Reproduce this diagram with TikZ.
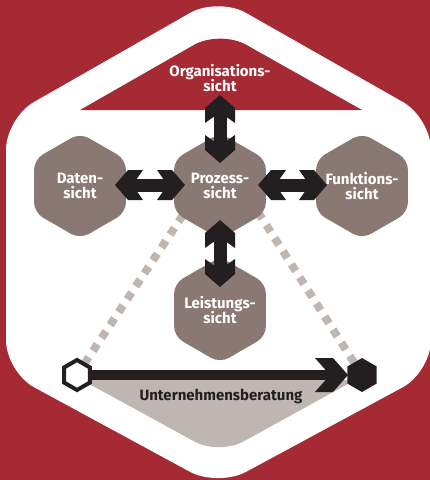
\documentclass[tikz,border=0pt]{standalone}
\usepackage{fontspec}
\setmainfont{Fira Sans}
\usetikzlibrary{shapes.geometric,arrows.meta,calc}
\definecolor{bgred}{HTML}{A62A33}
\definecolor{taupe}{HTML}{8A7972}
\definecolor{lgray}{HTML}{BFB6B2}
\definecolor{ink}{HTML}{231F20}
\pgfdeclarelayer{bg}
\pgfsetlayers{bg,main}
\pgfdeclarearrow{
  name = Chunky,
  setup code = {
    \pgfarrowssettipend{0pt}
    \pgfarrowssetbackend{-28pt}
    \pgfarrowssetlineend{-20pt}
    \pgfarrowshullpoint{0pt}{0pt}
    \pgfarrowsupperhullpoint{-28pt}{15pt}
  },
  drawing code = {
    \pgfpathmoveto{\pgfpoint{0pt}{0pt}}
    \pgfpathlineto{\pgfpoint{-13pt}{15pt}}
    \pgfpathlineto{\pgfpoint{-28pt}{15pt}}
    \pgfpathlineto{\pgfpoint{-22pt}{6.5pt}}
    \pgfpathlineto{\pgfpoint{-22pt}{-6.5pt}}
    \pgfpathlineto{\pgfpoint{-28pt}{-15pt}}
    \pgfpathlineto{\pgfpoint{-13pt}{-15pt}}
    \pgfpathclose
    \pgfusepathqfill
  },
}
\begin{document}
\begin{tikzpicture}[x=1pt,y=-1pt,
  hexa/.style={regular polygon, regular polygon sides=6, shape border rotate=30,
    inner sep=0pt, outer sep=0pt},
  view/.style={hexa, minimum size=106pt, fill=taupe, rounded corners=10pt,
    label={[text=white, align=center, font=\bfseries\fontsize{15}{15.5}\selectfont]center:#1}},
  lbl/.style={align=center, font=\bfseries\fontsize{15}{15.5}\selectfont},
  dblarrow/.style={draw=ink, fill=ink, line width=13pt, {Chunky}-{Chunky}},
  dotline/.style={draw=lgray, line width=8pt, dash pattern=on 8pt off 7.5pt},
]
\useasboundingbox (0,0) rectangle (430,480);

% nodes
\node[lbl, text=white] (org) at (220,78) {Organisations-\\sicht};
\node[view={Daten-\\sicht}] (daten) at (80,186) {};
\node[view={Prozess-\\sicht}] (proz) at (220,186) {};
\node[view={Funktions-\\sicht}] (funk) at (362,186) {};
\node[view={Leistungs-\\sicht}] (leis) at (220,310) {};
\node[hexa, minimum size=30pt, fill=white, draw=ink, line width=4pt] (lo) at (77,375) {};
\node[hexa, minimum size=34pt, fill=ink] (hi) at (362,375) {};
\node[lbl, text=ink] (ub) at (221,396) {Unternehmensberatung};

\coordinate (orgA) at (220,95);
\coordinate (pL) at (183,215);
\coordinate (pR) at (258,212);

% connectors
\draw[dblarrow] (orgA) -- ($(proz.center)+(0,-23)$);
\draw[dblarrow] ($(proz.center)+(0,34)$) -- ($(leis.center)+(0,-23)$);
\draw[dblarrow] ($(daten.center)+(35,-1)$) -- ($(proz.center)+(-35,-1)$);
\draw[dblarrow] ($(proz.center)+(38,-1)$) -- ($(funk.center)+(-35,-1)$);

\draw[ink, line width=10pt] (lo.east) -- ($(hi.center)+(-32,0)$);
\fill[ink] ($(hi.center)+(-47,-17)$) -- ($(hi.center)+(-29,-17)$) -- ($(hi.center)+(-14,0)$)
  -- ($(hi.center)+(-29,17)$) -- ($(hi.center)+(-47,17)$) -- ($(hi.center)+(-32,0)$) -- cycle;

\begin{pgfonlayer}{bg}
  \fill[bgred] (0,0) rectangle (430,480);
  \fill[white, rounded corners=32pt] (6,245) -- (6,118) -- (218,-3) -- (431,118)
    -- (431,372) -- (218,487) -- (6,372) -- cycle;
  \fill[bgred] (80,110) [rounded corners=30pt] -- (220,30) [sharp corners] -- (362,110) -- cycle;
  \fill[lgray] (82,380) [rounded corners=28pt] -- (219,455) [sharp corners] -- (355,380) -- cycle;
  \draw[dotline] (pL) -- (lo.center);
  \draw[dotline] (pR) -- (hi.center);
\end{pgfonlayer}
\end{tikzpicture}
\end{document}
